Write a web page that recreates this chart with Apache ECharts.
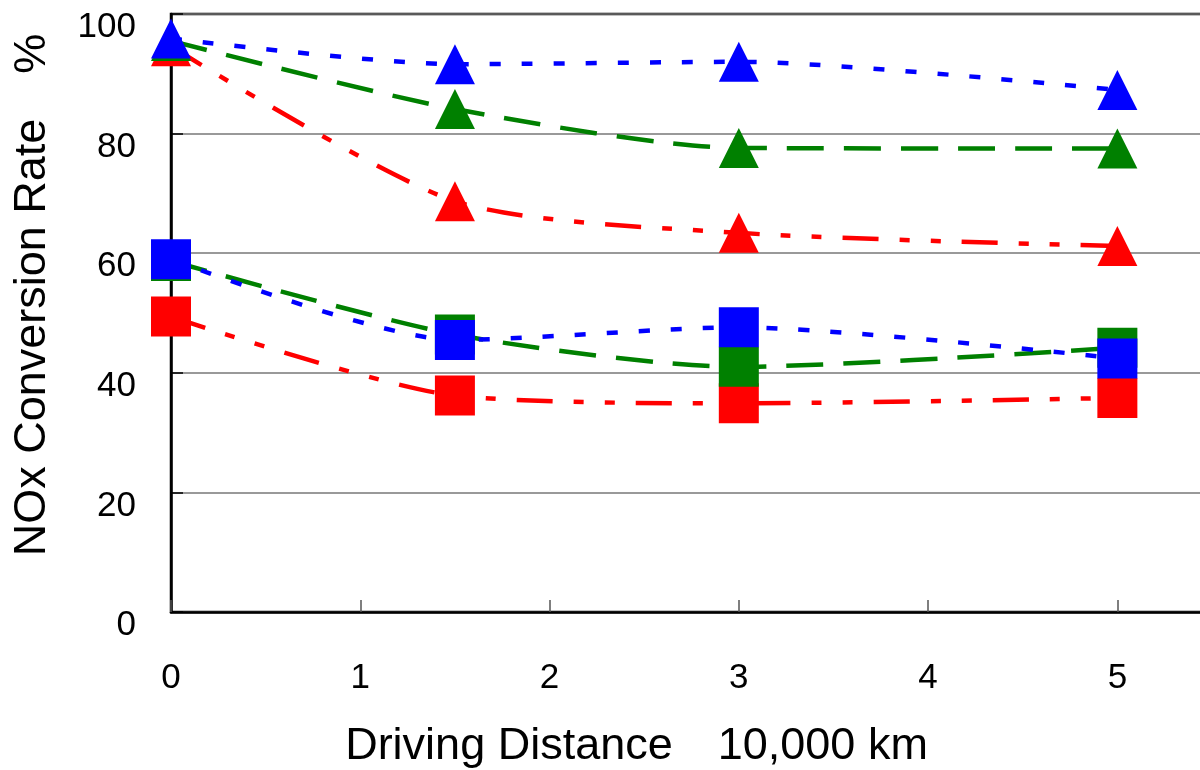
<!DOCTYPE html>
<html>
<head>
<meta charset="utf-8">
<script src="https://cdn.jsdelivr.net/npm/echarts@6/dist/echarts.min.js"></script>
<style>html,body{margin:0;padding:0;background:#fff}#c{width:1200px;height:770px}</style>
</head>
<body>
<div id="c"></div>
<script>
// Driving distance (10,000 km)
const distances = [0, 1.5, 3, 5];
// Triangle series (NOx conversion rate %)
const triBlue  = [95.9, 91.6, 92.0, 87.3];
const triGreen = [95.5, 84.1, 77.6, 77.5];
const triRed   = [94.6, 68.7, 63.4, 61.2];
// Square series
const sqBlue  = [59.0, 45.5, 47.6, 42.4];
const sqGreen = [58.7, 46.4, 41.0, 44.2];
const sqRed   = [49.4, 36.2, 34.9, 35.8];

const xName = 'Driving Distance\u300010,000 km';
const yName = 'NOx Conversion Rate\u3000%';

const FONT = '"Liberation Sans", Arial, "Noto Sans CJK JP", sans-serif';
const BLUE = '#0000FF', GREEN = '#008000', RED = '#FF0000';

function pairs(vals) { return distances.map((d, i) => [d, vals[i]]); }

function mk(name, vals, color, dash, symbol) {
  return {
    name: name,
    type: 'line',
    data: pairs(vals),
    smooth: 0.25,
    symbol: symbol,
    symbolSize: 40,
    showSymbol: true,
    animation: false,
    lineStyle: { color: color, width: 4.5, type: dash, cap: 'butt' },
    itemStyle: { color: color, borderWidth: 0 },
    emphasis: { disabled: true }
  };
}

const chart = echarts.init(document.getElementById('c'), null, { renderer: 'canvas' });
chart.setOption({
  backgroundColor: '#fff',
  animation: false,
  grid: {
    left: 171, top: 14, width: 1041, height: 598,
    containLabel: false, outerBoundsMode: 'none',
    show: true, borderColor: '#000', borderWidth: 2.5, backgroundColor: 'transparent'
  },
  xAxis: {
    type: 'value', min: 0, max: 5.5, interval: 1,
    name: xName, nameLocation: 'middle', nameGap: 112,
    nameTextStyle: { fontFamily: FONT, fontSize: 45, color: '#000', padding: [0, 110, 0, 0] },
    axisLine: { show: true, onZero: false, lineStyle: { color: '#000', width: 2.5 } },
    axisTick: { show: true, inside: true, length: 12, lineStyle: { color: '#555', width: 1.5 } },
    axisLabel: { showMaxLabel: false, margin: 49, fontFamily: FONT, fontSize: 35, color: '#000' },
    splitLine: { show: false }
  },
  yAxis: {
    type: 'value', min: 0, max: 100, interval: 20,
    name: yName, nameLocation: 'middle', nameGap: 116, nameRotate: 90,
    nameTextStyle: { fontFamily: FONT, fontSize: 45, color: '#000', padding: [0, 0, 0, 36] },
    axisLine: { show: true, lineStyle: { color: '#000', width: 2.5 } },
    axisTick: { show: true, inside: true, length: 12, lineStyle: { color: '#000', width: 1.5 } },
    axisLabel: { margin: 35, fontFamily: FONT, fontSize: 35, color: '#000', verticalAlign: 'top', lineHeight: 27 },
    splitLine: { show: true, lineStyle: { color: '#777', width: 1.5 } }
  },
  series: [
    mk('Red square', sqRed, RED, [36, 21, 10, 21, 10, 21], 'rect'),
    mk('Green square', sqGreen, GREEN, [37, 20], 'rect'),
    mk('Blue square', sqBlue, BLUE, [11, 21], 'rect'),
    mk('Red triangle', triRed, RED, [36, 21, 10, 21, 10, 21], 'triangle'),
    mk('Green triangle', triGreen, GREEN, [37, 20], 'triangle'),
    mk('Blue triangle', triBlue, BLUE, [11, 21], 'triangle')
  ]
});
</script>
</body>
</html>
